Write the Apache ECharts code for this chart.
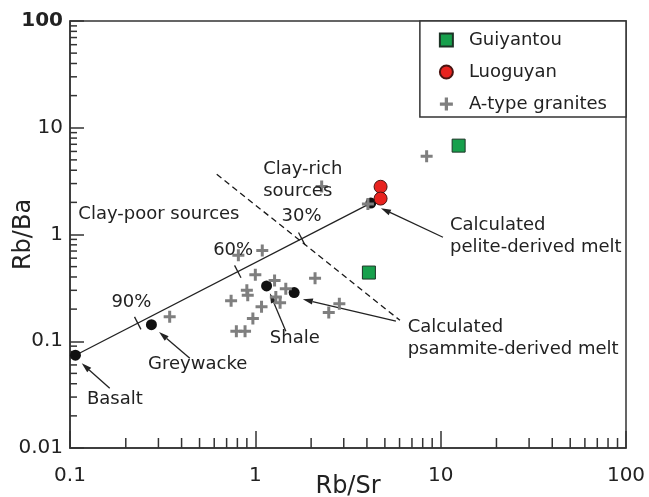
<!DOCTYPE html>
<html>
<head>
<meta charset="utf-8">
<script src="https://cdn.jsdelivr.net/npm/echarts@6/dist/echarts.min.js"></script>
<style>
  html, body { margin: 0; padding: 0; background: #fff; }
  #chart { width: 649px; height: 497px; }
</style>
</head>
<body>
<div id="chart"></div>
<script>
// Rb/Sr vs Rb/Ba discrimination diagram for source rocks of granitic melts
const FONT = 'DejaVu Sans';
const INK = '#222';

const xTickLabels = ['0.1', '1', '10', '100'];
const yTickLabels = ['0.01', '0.1', '1', '10', '100'];

// Samples
const guiyantouRbSr = [12.5, 4.1];
const guiyantouRbBa = [6.8, 0.44];
const luoguyanRbSr = [4.74, 4.74];
const luoguyanRbBa = [2.8, 2.17];
const aTypeRbSr = [8.4, 2.28, 4.05, 0.81, 1.09, 1.0, 2.1, 1.27, 0.90, 0.91, 1.46,
                   1.29, 0.74, 1.36, 1.08, 0.97, 0.79, 0.88, 0.345, 2.84, 2.49];
const aTypeRbBa = [5.4, 2.82, 1.93, 0.64, 0.71, 0.42, 0.39, 0.37, 0.30, 0.27, 0.31,
                   0.26, 0.24, 0.23, 0.21, 0.163, 0.124, 0.124, 0.17, 0.225, 0.186];

// Source end-members (basalt, greywacke, two shales, pelite-derived melt)
const endMemberRbSr = [0.107, 0.275, 1.15, 1.62, 4.2];
const endMemberRbBa = [0.074, 0.143, 0.33, 0.286, 1.97];

// Mixing line basalt -> pelite-derived melt, with percentage marks
const mixTickRbSr = [0.232, 0.804, 1.78];

// Clay-poor / clay-rich boundary
const boundaryRbSr = [0.619, 6.03];
const boundaryRbBa = [3.67, 0.157];

// Text annotations (left-anchored, vertically centred)
const annotText = ['Clay-poor sources', 'Clay-rich\nsources', '30%', '60%', '90%',
                   'Calculated\npelite-derived melt', 'Calculated\npsammite-derived melt',
                   'Shale', 'Greywacke', 'Basalt'];
const annotRbSr = [0.1109, 1.102, 1.386, 0.592, 0.1673, 11.23, 6.635, 1.198, 0.2638, 0.1235];
const annotRbBa = [1.549, 3.228, 1.484, 0.7127, 0.2295, 0.964, 0.1073, 0.1067, 0.0609, 0.0283];

// Pointer arrows: tail -> head
const arrowFromRbSr = [0.1638, 0.443, 1.461, 5.736, 10.29];
const arrowFromRbBa = [0.0363, 0.0693, 0.124, 0.154, 0.943];
const arrowToRbSr = [0.1157, 0.3024, 1.198, 1.805, 4.76];
const arrowToRbBa = [0.0622, 0.1223, 0.282, 0.2475, 1.764];

// Minor tick positions (2..9 within each decade)
const minorSteps = [2, 3, 4, 5, 6, 7, 8, 9];
const xDecades = [0.1, 1, 10];
const yDecades = [0.01, 0.1, 1, 10];
const X_MIN = 0.1, X_MAX = 100, Y_MIN = 0.01, Y_MAX = 100;

const zip = (a, b) => a.map((v, i) => [v, b[i]]);
const crossPath = 'path://M4.5,0H7.5V4.5H12V7.5H7.5V12H4.5V7.5H0V4.5H4.5Z';

const xMinor = [];
xDecades.forEach(d => minorSteps.forEach(m => xMinor.push([d * m, Y_MIN])));
const yMinor = [];
yDecades.forEach(d => minorSteps.forEach(m => yMinor.push([X_MIN, d * m])));

const mixStart = [endMemberRbSr[0], endMemberRbBa[0]];
const mixEnd = [endMemberRbSr[4], endMemberRbBa[4]];

const chart = echarts.init(document.getElementById('chart'), null, { renderer: 'canvas' });

const option = {
  animation: false,
  backgroundColor: '#fff',
  grid: {
    left: 70, right: 23, top: 21, bottom: 49,
    containLabel: false, outerBoundsMode: 'none',
    show: true, borderColor: '#333', borderWidth: 1.5, backgroundColor: 'transparent'
  },
  legend: {
    orient: 'vertical',
    right: 23, top: 21,
    padding: [8, 19, 2, 19],
    itemGap: 10, itemWidth: 13, itemHeight: 13,
    backgroundColor: '#fff', borderColor: '#333', borderWidth: 1.5,
    textStyle: { fontFamily: FONT, fontSize: 18, color: INK, lineHeight: 22, padding: [0, 0, 0, 11] },
    selectedMode: false,
    data: [
      { name: 'Guiyantou', icon: 'rect' },
      { name: 'Luoguyan', icon: 'circle' },
      { name: 'A-type granites', icon: crossPath }
    ]
  },
  xAxis: {
    type: 'log', logBase: 10, min: X_MIN, max: X_MAX,
    name: 'Rb/Sr', nameLocation: 'middle', nameGap: 27, nameMoveOverlap: false,
    nameTextStyle: { fontFamily: FONT, fontSize: 24, color: INK },
    axisLine: { show: true, lineStyle: { color: '#333', width: 1.5 } },
    axisTick: { show: true, inside: true, length: 17, lineStyle: { color: '#333', width: 1.5 } },
    axisLabel: {
      margin: 18, fontFamily: FONT, fontSize: 20, color: INK,
      formatter: v => xTickLabels[Math.round(Math.log10(v)) + 1]
    },
    splitLine: { show: false }
  },
  yAxis: {
    type: 'log', logBase: 10, min: Y_MIN, max: Y_MAX,
    name: 'Rb/Ba', nameLocation: 'middle', nameGap: 34, nameMoveOverlap: false,
    nameTextStyle: { fontFamily: FONT, fontSize: 24, color: INK },
    axisLine: { show: true, lineStyle: { color: '#333', width: 1.5 } },
    axisTick: { show: true, inside: true, length: 14, lineStyle: { color: '#333', width: 1.5 } },
    axisLabel: {
      margin: 7, fontFamily: FONT, fontSize: 20, color: INK,
      formatter: v => {
        const t = yTickLabels[Math.round(Math.log10(v)) + 2];
        return t === '100' ? '{b|' + t + '}' : t;
      },
      rich: { b: { fontFamily: FONT, fontSize: 20, fontWeight: 'bold', color: INK } }
    },
    splitLine: { show: false }
  },
  series: [
    // minor ticks on the bottom axis
    {
      type: 'custom', silent: true, z: 1, data: xMinor,
      renderItem: (params, api) => {
        const p = api.coord([api.value(0), api.value(1)]);
        return { type: 'line', shape: { x1: p[0], y1: p[1], x2: p[0], y2: p[1] - 10 },
                 style: { stroke: '#333', lineWidth: 1.5 } };
      }
    },
    // minor ticks on the left axis
    {
      type: 'custom', silent: true, z: 1, data: yMinor,
      renderItem: (params, api) => {
        const p = api.coord([api.value(0), api.value(1)]);
        return { type: 'line', shape: { x1: p[0], y1: p[1], x2: p[0] + 7, y2: p[1] },
                 style: { stroke: '#333', lineWidth: 1.5 } };
      }
    },
    // mixing line
    {
      type: 'line', silent: true, z: 2, symbol: 'none',
      data: [mixStart, mixEnd],
      lineStyle: { color: INK, width: 1.3 }
    },
    // percentage marks across the mixing line
    {
      type: 'custom', silent: true, z: 2,
      data: mixTickRbSr.map(v => [v, mixEnd[1]]),
      renderItem: (params, api) => {
        const a = api.coord(mixStart), b = api.coord(mixEnd);
        const px = api.coord([api.value(0), mixEnd[1]])[0];
        const t = (px - a[0]) / (b[0] - a[0]);
        const py = a[1] + t * (b[1] - a[1]);
        const dx = b[0] - a[0], dy = b[1] - a[1];
        const len = Math.hypot(dx, dy);
        const nx = -dy / len, ny = dx / len;
        const h = 7;
        return { type: 'line', shape: { x1: px - nx * h, y1: py - ny * h, x2: px + nx * h, y2: py + ny * h },
                 style: { stroke: INK, lineWidth: 1.3 } };
      }
    },
    // clay-poor / clay-rich boundary
    {
      type: 'line', silent: true, z: 2, symbol: 'none',
      data: zip(boundaryRbSr, boundaryRbBa),
      lineStyle: { color: '#1a1a1a', width: 1.3, type: [6, 4] }
    },
    // pointer arrows
    {
      type: 'custom', silent: true, z: 2,
      data: arrowFromRbSr.map((v, i) => [v, arrowFromRbBa[i], arrowToRbSr[i], arrowToRbBa[i]]),
      renderItem: (params, api) => {
        const p0 = api.coord([api.value(0), api.value(1)]);
        const p1 = api.coord([api.value(2), api.value(3)]);
        const dx = p1[0] - p0[0], dy = p1[1] - p0[1];
        const len = Math.hypot(dx, dy);
        const ux = dx / len, uy = dy / len;
        const hl = 10, hw = 3;
        const bx = p1[0] - ux * hl, by = p1[1] - uy * hl;
        return {
          type: 'group',
          children: [
            { type: 'line', shape: { x1: p0[0], y1: p0[1], x2: bx, y2: by },
              style: { stroke: INK, lineWidth: 1.3 } },
            { type: 'polygon', shape: { points: [[p1[0], p1[1]], [bx - uy * hw, by + ux * hw], [bx + uy * hw, by - ux * hw]] },
              style: { fill: INK } }
          ]
        };
      }
    },
    // source end-members
    {
      type: 'scatter', silent: true, z: 3, symbol: 'circle', symbolSize: 11,
      data: zip(endMemberRbSr, endMemberRbBa),
      itemStyle: { color: '#111', opacity: 1 }
    },
    {
      name: 'A-type granites', type: 'scatter', silent: true, z: 4,
      symbol: crossPath, symbolSize: 12,
      data: zip(aTypeRbSr, aTypeRbBa),
      itemStyle: { color: '#7f7f7f', opacity: 1 }
    },
    {
      name: 'Guiyantou', type: 'scatter', silent: true, z: 5,
      symbol: 'rect', symbolSize: 13,
      data: zip(guiyantouRbSr, guiyantouRbBa),
      itemStyle: { color: '#17a04c', borderColor: '#1d3326', borderWidth: 1, opacity: 1 }
    },
    {
      name: 'Luoguyan', type: 'scatter', silent: true, z: 6,
      symbol: 'circle', symbolSize: 13,
      data: zip(luoguyanRbSr, luoguyanRbBa),
      itemStyle: { color: '#e8231f', borderColor: '#4a1512', borderWidth: 1, opacity: 1 }
    },
    // text annotations
    {
      type: 'custom', silent: true, z: 7,
      data: annotRbSr.map((v, i) => [v, annotRbBa[i], i]),
      renderItem: (params, api) => {
        const p = api.coord([api.value(0), api.value(1)]);
        return {
          type: 'text', x: p[0], y: p[1],
          style: {
            text: annotText[api.value(2)], fill: INK,
            fontFamily: FONT, fontSize: 18, lineHeight: 22,
            align: 'left', verticalAlign: 'middle'
          }
        };
      }
    }
  ]
};

chart.setOption(option);
</script>
</body>
</html>
